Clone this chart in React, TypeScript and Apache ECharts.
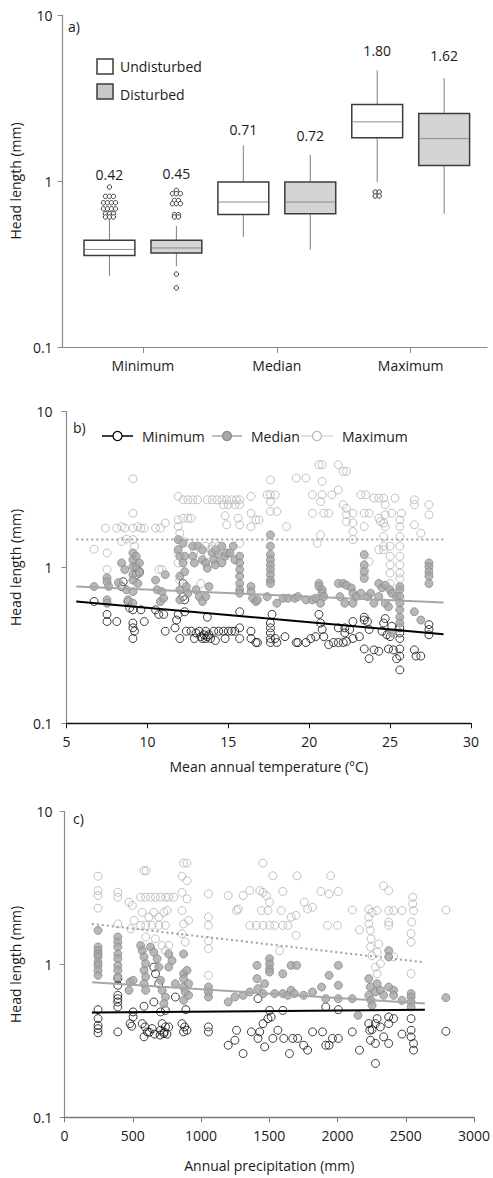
import React, { useEffect, useRef } from "react";
import * as echarts from "echarts";

const FONT = "'Open Sans', 'Noto Sans', sans-serif";
const TXT = "#1a1a1a";

// ---------- Panel a: box plots ----------
const boxCategories = ["Minimum", "Median", "Maximum"];
// [lower whisker, Q1, median, Q3, upper whisker]
const undisturbedBoxes = [
  [0.268, 0.356, 0.387, 0.439, 0.593],
  [0.46, 0.629, 0.747, 0.986, 1.64],
  [0.986, 1.82, 2.27, 2.89, 4.64],
];
const disturbedBoxes = [
  [0.306, 0.368, 0.395, 0.439, 0.536],
  [0.386, 0.635, 0.747, 0.986, 1.44],
  [0.635, 1.24, 1.8, 2.55, 4.17],
];
const undisturbedMeans = [0.42, 0.71, 1.8];
const disturbedMeans = [0.45, 0.72, 1.62];
const undisturbedOutliers = [
  [0.92, 0.808, 0.808, 0.808, 0.74, 0.74, 0.74, 0.74, 0.68, 0.68, 0.68, 0.68, 0.635, 0.635, 0.635, 0.607, 0.607, 0.607],
  [],
  [0.858, 0.858, 0.812, 0.812],
];
const disturbedOutliers = [
  [0.878, 0.839, 0.839, 0.839, 0.764, 0.764, 0.73, 0.73, 0.73, 0.627, 0.627, 0.607, 0.607, 0.275, 0.227],
  [],
  [],
];

// ---------- Panel b: head length vs mean annual temperature ----------
const tempMinimum = [
  [6.7, 0.605], [7.5, 0.5], [7.5, 0.45], [8.1, 0.45], [8.5, 0.81], [8.4, 0.755],
  [8.8, 0.605], [8.9, 0.55], [9.1, 0.535], [9.1, 0.44], [9.1, 0.41], [9.1, 0.35], [9.2, 0.39], [9.3, 0.9], [9.5, 0.94], [9.6, 0.535], [9.8, 0.45],
  [10.5, 0.535], [10.7, 0.5], [11.0, 0.5], [11.1, 0.39],
  [11.7, 0.41], [11.8, 0.46], [11.9, 0.5], [12.0, 0.35], [12.2, 0.79], [12.2, 0.65], [12.3, 0.62], [12.3, 0.52],
  [12.4, 0.39], [12.7, 0.39], [12.9, 0.35], [13.2, 0.39], [13.4, 0.35], [13.6, 0.39], [13.7, 0.48], [13.9, 0.35], [14.1, 0.39], [14.4, 0.39],
  [14.7, 0.39], [15.0, 0.39], [15.2, 0.39], [15.4, 0.39], [15.7, 0.41], [15.7, 0.35], [14.8, 0.35], [14.2, 0.34],
  [13.5, 0.37], [13.3, 0.36], [13.7, 0.36], [13.0, 0.38], [13.6, 0.35], [13.8, 0.37],
  [15.7, 0.52], [16.4, 0.39], [16.4, 0.35], [16.7, 0.33], [16.8, 0.33],
  [17.6, 0.44], [17.6, 0.41], [17.6, 0.38], [17.6, 0.35], [17.6, 0.33], [17.7, 0.5], [17.9, 0.35], [18.0, 0.33], [18.5, 0.36],
  [19.2, 0.33], [19.3, 0.33], [19.8, 0.33], [20.1, 0.35], [20.4, 0.36], [20.6, 0.5], [20.7, 0.44], [20.8, 0.4], [20.9, 0.36],
  [21.2, 0.32], [21.5, 0.33], [21.8, 0.33], [22.1, 0.33], [22.3, 0.335], [21.8, 0.41], [22.2, 0.41], [22.5, 0.4], [22.7, 0.45], [22.7, 0.35], [22.2, 0.38],
  [23.4, 0.48], [23.4, 0.46], [23.6, 0.45], [23.4, 0.3], [23.1, 0.36], [23.7, 0.4],
  [24.0, 0.296], [24.3, 0.29], [23.7, 0.26], [24.5, 0.39], [24.6, 0.44], [24.7, 0.47], [24.8, 0.37],
  [24.9, 0.3], [25.1, 0.42], [25.0, 0.36], [25.2, 0.296], [25.4, 0.26], [25.6, 0.41], [25.6, 0.38], [25.6, 0.35], [25.6, 0.3], [25.6, 0.27], [25.6, 0.22],
  [26.5, 0.296], [26.6, 0.27], [26.9, 0.27], [27.4, 0.43], [27.4, 0.4], [27.4, 0.37],
];
const tempMedian = [
  [6.7, 0.755], [7.5, 0.86], [7.5, 0.81], [7.5, 0.62], [7.5, 0.59], [7.6, 0.755],
  [8.4, 1.07], [8.2, 0.8], [8.6, 0.97], [8.7, 0.72], [8.8, 0.62],
  [9.1, 1.24], [9.1, 1.12], [9.1, 1.01], [9.1, 0.9], [9.1, 0.83], [9.1, 0.7], [9.1, 0.59], [9.3, 1.18], [9.3, 1.01], [9.4, 0.79], [9.5, 0.92], [9.5, 1.07],
  [10.5, 0.83], [10.6, 0.72], [10.9, 0.7], [10.8, 0.605], [11.1, 0.9], [11.0, 0.635],
  [11.9, 1.51], [11.9, 1.3], [12.0, 1.18], [12.0, 0.88], [12.0, 0.72], [12.0, 0.62],
  [12.2, 1.43], [12.3, 1.18], [12.2, 1.07], [12.3, 0.94], [12.4, 0.755], [12.5, 0.684],
  [12.8, 1.37], [12.8, 1.18], [12.9, 1.07], [13.1, 1.37], [13.4, 1.3], [13.4, 1.12], [13.6, 1.07], [13.0, 0.72], [13.2, 0.65], [13.4, 0.605], [13.6, 0.65], [13.8, 0.755],
  [14.0, 1.24], [14.1, 1.12], [14.2, 1.3], [14.4, 1.21], [14.6, 1.37], [14.8, 1.18], [14.9, 1.24], [15.1, 1.24], [15.3, 1.37], [15.4, 1.12], [13.7, 0.99], [14.2, 1.04], [14.6, 1.07],
  [15.7, 1.18], [15.7, 1.07], [15.7, 0.97], [15.7, 0.88], [15.7, 0.79], [15.7, 0.72], [15.7, 0.684],
  [16.4, 0.755], [16.4, 0.7], [16.5, 0.635], [16.7, 0.605], [16.8, 0.62],
  [17.6, 1.62], [17.6, 1.37], [17.6, 1.21], [17.6, 1.12], [17.6, 1.04], [17.6, 0.97], [17.6, 0.9], [17.6, 0.83], [17.6, 0.79],
  [17.4, 0.65], [18.0, 0.59], [18.4, 0.635], [18.7, 0.635], [19.1, 0.635], [19.3, 0.65],
  [19.8, 0.62], [20.2, 0.62], [20.4, 0.635], [20.6, 0.79], [20.6, 0.755], [20.8, 0.72], [20.8, 0.684], [20.9, 0.65], [20.7, 0.59],
  [21.8, 0.79], [22.1, 0.79], [22.3, 0.77], [22.6, 0.74], [21.9, 0.65], [22.2, 0.59], [22.7, 0.59], [22.7, 0.684], [22.9, 0.65],
  [23.4, 1.21], [23.4, 1.04], [23.4, 0.94], [23.4, 0.85], [23.2, 0.684], [23.6, 0.65], [23.8, 0.684], [24.0, 0.59], [24.3, 0.65], [24.3, 0.79], [24.5, 0.74], [24.7, 0.77],
  [24.7, 0.59], [24.9, 0.56], [25.0, 0.72], [25.1, 0.684], [25.4, 0.65], [25.6, 0.755], [25.6, 0.72], [25.6, 0.65], [25.6, 0.59], [25.6, 0.535], [25.6, 0.48], [25.6, 0.44], [25.1, 0.38],
  [26.5, 0.52], [26.9, 0.46], [27.4, 1.07], [27.4, 1.01], [27.4, 0.94], [27.4, 0.88], [27.4, 0.79],
];
const tempMaximum = [
  [6.7, 1.31], [7.4, 1.79], [7.5, 1.24], [7.5, 0.97], [8.1, 1.79], [8.4, 1.83], [8.6, 1.79], [9.1, 1.79], [9.6, 1.79], [9.8, 1.79],
  [9.1, 3.71], [9.1, 2.23], [9.1, 1.51], [9.2, 1.37], [8.7, 1.52], [8.4, 1.47], [9.4, 1.83],
  [10.5, 1.79], [10.8, 1.79], [11.1, 1.93], [10.7, 0.97], [10.9, 0.97],
  [11.9, 2.86], [12.2, 2.72], [12.5, 2.72], [12.8, 2.72], [13.1, 2.72],
  [11.9, 2.02], [12.2, 2.07], [12.5, 2.07], [12.7, 2.07],
  [11.9, 1.83], [12.0, 1.66], [12.2, 1.47], [11.9, 1.24], [11.9, 1.07], [12.0, 0.83],
  [13.7, 2.72], [14.0, 2.72], [14.3, 2.72], [14.6, 2.72], [14.9, 2.72], [15.2, 2.72], [15.5, 2.72], [15.7, 2.72],
  [14.7, 2.53], [15.0, 2.53], [15.4, 2.53], [15.7, 2.53],
  [14.8, 2.15], [14.9, 1.88], [15.6, 2.07], [15.7, 1.88], [15.7, 1.43],
  [13.2, 1.37], [13.6, 1.37], [14.0, 1.37], [14.4, 1.37], [13.3, 1.21], [13.7, 1.21], [13.3, 0.79],
  [12.6, 1.43], [12.9, 1.3], [13.9, 1.3], [14.2, 1.43], [14.5, 1.24],
  [16.4, 2.86], [16.4, 2.23], [16.4, 1.83], [16.7, 2.02], [16.9, 2.02],
  [17.4, 2.93], [17.6, 2.93], [17.9, 2.93], [17.6, 3.65], [17.6, 2.65], [17.6, 2.29], [18.0, 2.29], [18.6, 1.83],
  [19.2, 3.75], [19.8, 3.75],
  [20.6, 4.57], [20.8, 4.57], [20.8, 3.57], [20.2, 2.93], [20.8, 2.93], [21.4, 2.93], [20.7, 2.65], [20.2, 2.23], [20.9, 2.23], [21.2, 2.23], [20.7, 1.62], [20.5, 1.43],
  [21.8, 4.57], [22.1, 4.14], [22.3, 4.14], [21.8, 3.15], [22.1, 2.53], [22.3, 2.4], [22.3, 2.18], [22.3, 1.97], [22.7, 1.93], [22.7, 1.7], [22.7, 1.51], [22.7, 2.23],
  [23.2, 2.93], [23.5, 2.93], [23.4, 2.23], [23.7, 2.23], [23.4, 1.83], [23.7, 1.09], [23.4, 0.97], [23.4, 0.88],
  [24.0, 2.79], [24.3, 2.79], [24.6, 2.79], [24.3, 2.07], [24.4, 1.97], [24.7, 2.53], [24.7, 2.18], [24.6, 1.93], [24.7, 1.83], [24.6, 1.58], [24.6, 1.37], [24.6, 1.3], [24.3, 1.3],
  [25.0, 1.37], [25.0, 1.18], [25.0, 1.04], [25.0, 0.92], [25.0, 0.79],
  [25.3, 2.79], [25.1, 2.23], [25.7, 2.23], [25.6, 2.02], [25.6, 1.83], [25.6, 1.58], [25.6, 1.37], [25.6, 1.18], [25.6, 1.04], [25.6, 0.92], [25.6, 0.85], [25.6, 0.72],
  [26.5, 2.72], [26.5, 2.53], [26.5, 1.88], [26.9, 1.66], [27.4, 2.53], [27.4, 2.18],
];
const tempTrendMinimum = [[5.6, 0.605], [28.3, 0.373]];
const tempTrendMedian = [[5.6, 0.755], [28.3, 0.596]];
const tempTrendMaximum = [[5.6, 1.51], [28.3, 1.51]];

// ---------- Panel c: head length vs annual precipitation ----------
const precipMinimum = [
  [245, 0.506], [245, 0.442], [245, 0.4], [245, 0.38], [245, 0.357],
  [390, 0.807], [390, 0.73], [390, 0.628], [390, 0.597], [390, 0.568], [390, 0.527], [390, 0.362],
  [480, 0.41], [502, 0.453], [492, 0.394], [502, 0.489],
  [582, 0.532], [569, 0.41], [589, 0.39], [582, 0.336], [606, 0.362], [642, 0.38], [654, 0.96], [666, 0.869], [690, 0.748], [703, 0.489],
  [715, 0.41], [739, 0.39], [727, 0.353], [703, 0.371], [763, 0.39], [812, 0.612], [739, 0.5], [654, 0.568],
  [620, 0.36], [660, 0.35], [700, 0.345], [730, 0.36], [750, 0.35],
  [860, 0.41], [880, 0.39], [889, 0.506], [897, 0.371], [872, 0.362],
  [1054, 0.39], [1054, 0.362],
  [1199, 0.296], [1260, 0.371], [1248, 0.319], [1308, 0.261], [1369, 0.362], [1417, 0.597], [1430, 0.362], [1417, 0.328], [1466, 0.289],
  [1454, 0.41], [1490, 0.442], [1502, 0.5], [1514, 0.453], [1526, 0.328], [1563, 0.371], [1599, 0.5], [1606, 0.328], [1648, 0.261],
  [1672, 0.328], [1708, 0.328], [1752, 0.296], [1781, 0.275], [1817, 0.362], [1890, 0.362], [1914, 0.296], [1938, 0.296], [1963, 0.328],
  [2006, 0.328], [1914, 0.527], [2006, 0.506], [2108, 0.362], [2161, 0.275],
  [2229, 0.41], [2236, 0.371], [2241, 0.319], [2253, 0.375], [2278, 0.304], [2278, 0.41], [2290, 0.442], [2278, 0.225], [2314, 0.39],
  [2338, 0.336], [2375, 0.453], [2375, 0.41], [2411, 0.442], [2375, 0.304], [2472, 0.35],
  [2539, 0.442], [2539, 0.371], [2539, 0.336], [2557, 0.304], [2557, 0.275], [2794, 0.365],
];
const precipMedian = [
  [245, 1.67], [245, 1.3], [245, 1.23], [245, 1.17], [245, 1.12], [245, 1.035], [245, 0.985], [245, 0.914], [245, 0.848],
  [390, 1.51], [390, 1.4], [390, 1.3], [390, 1.17], [390, 1.09], [390, 0.985], [390, 0.914], [390, 0.83],
  [480, 0.767], [502, 0.787], [472, 0.677],
  [557, 1.33], [569, 1.23], [582, 1.12], [594, 1.01], [582, 0.914], [594, 0.83], [582, 0.748], [594, 0.677],
  [630, 1.3], [654, 1.2], [678, 1.09], [690, 0.96], [703, 0.787], [715, 0.677], [739, 0.612], [727, 0.554],
  [763, 1.17], [787, 1.06], [812, 0.748], [763, 0.96],
  [872, 1.17], [872, 0.87], [872, 0.807], [872, 0.711], [884, 0.66], [897, 0.914], [909, 0.748], [872, 0.582], [909, 0.628],
  [1054, 0.711], [1054, 0.66], [1054, 0.612],
  [1199, 0.568], [1248, 0.612], [1308, 0.628], [1357, 0.66], [1410, 0.985], [1410, 0.807], [1417, 0.694], [1466, 0.748],
  [1502, 1.09], [1502, 1.01], [1502, 0.937], [1502, 0.891], [1454, 0.644], [1539, 0.644], [1599, 0.869], [1599, 0.644],
  [1636, 0.628], [1660, 0.985], [1701, 0.985], [1660, 0.677], [1684, 0.644], [1752, 0.628], [1817, 0.66], [1883, 0.711],
  [1914, 0.597], [1938, 0.848], [2006, 0.985], [2006, 0.73], [2006, 0.597], [2108, 0.597], [2150, 0.465],
  [2229, 0.807], [2241, 0.711], [2229, 0.628], [2246, 0.582], [2253, 0.54], [2278, 0.66], [2290, 0.748], [2314, 0.677],
  [2338, 0.628], [2375, 1.23], [2375, 1.12], [2375, 0.711], [2411, 0.677], [2411, 0.628], [2472, 0.582],
  [2539, 0.644], [2539, 0.612], [2539, 0.568], [2539, 0.527], [2794, 0.606],
];
const precipMaximum = [
  [245, 3.77], [245, 3.04], [245, 2.82], [245, 2.33],
  [390, 2.96], [390, 2.75], [390, 1.84], [472, 2.55], [497, 2.43], [509, 1.94], [485, 1.71],
  [582, 4.1], [598, 4.1],
  [557, 2.75], [594, 2.75], [630, 2.75], [666, 2.75], [703, 2.75], [739, 2.75], [763, 2.75], [800, 2.75],
  [569, 2.19], [618, 2.04], [654, 2.19], [690, 2.04], [727, 2.19], [751, 2.25],
  [557, 1.8], [594, 1.8], [642, 1.8], [690, 1.8], [739, 1.8],
  [594, 1.51], [666, 1.47], [715, 1.33], [763, 1.33], [739, 1.23],
  [872, 4.6], [897, 4.6], [860, 3.77], [897, 3.53], [860, 2.96], [897, 2.68],
  [860, 2.25], [872, 1.84], [909, 1.94], [860, 1.59], [884, 1.4],
  [1054, 2.89], [1054, 2.04], [1054, 1.8], [1054, 1.43], [1054, 1.27], [1054, 0.848],
  [1199, 2.82], [1308, 2.82], [1357, 3.04], [1430, 3.04], [1454, 2.96], [1478, 2.82], [1502, 2.55],
  [1260, 2.25], [1272, 2.3], [1442, 2.25], [1490, 2.25], [1587, 2.25], [1660, 2.04], [1696, 2.09],
  [1357, 1.8], [1405, 1.8], [1454, 1.8], [1502, 1.8], [1539, 1.8], [1599, 1.8], [1636, 1.8],
  [1575, 1.23], [1696, 1.55],
  [1454, 4.6], [1526, 3.8], [1703, 3.8], [1950, 3.8],
  [1599, 3.0], [1878, 3.0], [1938, 2.89], [2006, 3.0],
  [1757, 2.55], [1781, 2.3], [1817, 2.36], [1926, 1.8], [1999, 1.8],
  [2108, 2.27], [2161, 1.68],
  [2229, 2.3], [2253, 2.19], [2290, 2.25], [2375, 2.25], [2411, 2.25], [2472, 2.25], [2557, 2.25], [2551, 2.49], [2551, 2.75], [2338, 3.27], [2375, 3.04],
  [2229, 2.04], [2229, 1.84], [2241, 1.67], [2246, 1.47], [2241, 1.3], [2253, 1.14], [2278, 0.96], [2290, 0.87], [2314, 1.01], [2290, 1.2], [2302, 1.36],
  [2375, 1.89], [2375, 1.8], [2411, 1.12],
  [2544, 1.89], [2539, 1.59], [2539, 1.4], [2539, 0.87], [2794, 2.27],
];
const precipTrendMinimum = [[200, 0.484], [2640, 0.506]];
const precipTrendMedian = [[200, 0.763], [2640, 0.554]];
const precipTrendMaximum = [[200, 1.84], [2625, 1.035]];

const yTicks = [0.1, 1, 10];

// ---------- helpers ----------
const GROUP_OFFSET = 0.25;
const BOX_HALF = 0.19;

function buildBoxRows(boxes: number[][], means: number[], outliers: number[][]) {
  return boxes.map((b, i) => {
    const top = Math.max(b[4], ...(outliers[i].length ? outliers[i] : [b[4]]));
    return [i + 1, b[0], b[1], b[2], b[3], b[4], means[i], top];
  });
}

function buildOutlierRows(lists: number[][], offset: number) {
  const rows: number[][] = [];
  lists.forEach((vals, i) => {
    const counts = new Map<number, number>();
    vals.forEach((v) => counts.set(v, (counts.get(v) || 0) + 1));
    const seen = new Map<number, number>();
    vals.forEach((v) => {
      const k = seen.get(v) || 0;
      seen.set(v, k + 1);
      rows.push([i + 1 + offset, v, k, counts.get(v) as number]);
    });
  });
  return rows;
}

// label gap above the top mark: base + step per category
const makeBoxRender = (offset: number, fill: string, gapBase: number, gapStep: number) => (_params: any, api: any) => {
  const cat = api.value(0);
  const c = cat + offset;
  const lo = api.coord([c, api.value(1)]);
  const q1 = api.coord([c, api.value(2)]);
  const med = api.coord([c, api.value(3)]);
  const q3 = api.coord([c, api.value(4)]);
  const hi = api.coord([c, api.value(5)]);
  const top = api.coord([c, api.value(7)]);
  const xl = api.coord([c - BOX_HALF, api.value(3)])[0];
  const xr = api.coord([c + BOX_HALF, api.value(3)])[0];
  const cx = lo[0];
  const gap = gapBase + gapStep * (cat - 1);
  return {
    type: "group",
    children: [
      { type: "line", shape: { x1: cx, y1: hi[1], x2: cx, y2: q3[1] }, style: { stroke: "#7f7f7f", lineWidth: 1 } },
      { type: "line", shape: { x1: cx, y1: q1[1], x2: cx, y2: lo[1] }, style: { stroke: "#7f7f7f", lineWidth: 1 } },
      {
        type: "rect",
        shape: { x: xl, y: q3[1], width: xr - xl, height: q1[1] - q3[1] },
        style: { fill, stroke: "#3c3c3c", lineWidth: 1.5 },
      },
      { type: "line", shape: { x1: xl + 1, y1: med[1], x2: xr - 1, y2: med[1] }, style: { stroke: "#8c8c8c", lineWidth: 1 } },
      {
        type: "text",
        x: cx,
        y: top[1] - gap,
        style: {
          text: Number(api.value(6)).toFixed(2),
          align: "center",
          verticalAlign: "bottom",
          fill: TXT,
          fontSize: 14,
          fontFamily: FONT,
        },
      },
    ],
  };
};

const outlierRender = (_params: any, api: any) => {
  const p = api.coord([api.value(0), api.value(1)]);
  const dx = (api.value(2) - (api.value(3) - 1) / 2) * 4;
  return {
    type: "circle",
    shape: { cx: p[0] + dx, cy: p[1], r: 2.2 },
    style: { fill: "#fff", stroke: "#333", lineWidth: 1 },
  };
};

const yAxisCommon = (gridIndex: number, labelMargin: number, nameGap: number) => ({
  type: "log",
  logBase: 10,
  gridIndex,
  min: 0.1,
  max: 10,
  name: "Head length (mm)",
  nameLocation: "middle",
  nameGap,
  nameTextStyle: { fontSize: 14, fontFamily: FONT, color: TXT },
  axisLine: { show: true, lineStyle: { color: "#8a8a8a", width: 1.2 } },
  axisTick: { show: true, length: 5, inside: false, lineStyle: { color: "#8a8a8a" } },
  axisLabel: {
    fontSize: 14,
    fontFamily: FONT,
    color: TXT,
    margin: labelMargin,
    formatter: (v: number) => {
      const t = yTicks.find((k) => Math.abs(k - v) / k < 1e-6);
      return t === undefined ? "" : String(t);
    },
  },
  splitLine: { show: false },
  minorTick: { show: false },
});

const scatterStyle = {
  min: { color: "rgba(255,255,255,0)", borderColor: "#111", borderWidth: 1 },
  med: { color: "#a6a6a6", borderColor: "#8a8a8a", borderWidth: 1 },
  max: { color: "rgba(255,255,255,0)", borderColor: "#b3b3b3", borderWidth: 1 },
};

function scatterSeries(name: string, data: number[][], axis: number, style: any, z: number) {
  return {
    type: "scatter",
    name,
    xAxisIndex: axis,
    yAxisIndex: axis,
    data,
    symbol: "circle",
    symbolSize: 8,
    itemStyle: style,
    z,
    silent: true,
  };
}

function trendSeries(data: number[][], axis: number, color: string, width: number, type: any) {
  return {
    type: "line",
    xAxisIndex: axis,
    yAxisIndex: axis,
    data,
    symbol: "none",
    lineStyle: { color, width, type },
    z: 10,
    silent: true,
  };
}

function legendItem(x1: number, x2: number, y: number, lineColor: string, lineW: number, fill: string, stroke: string, label: string) {
  const cx = (x1 + x2) / 2;
  return [
    { type: "line", shape: { x1, y1: y, x2, y2: y }, style: { stroke: lineColor, lineWidth: lineW } },
    { type: "circle", shape: { cx, cy: y, r: 4.5 }, style: { fill, stroke, lineWidth: 1.2 } },
    { type: "text", x: x2 + 9, y, style: { text: label, fill: TXT, fontSize: 14, fontFamily: FONT, verticalAlign: "middle", align: "left" } },
  ];
}

const plainNumber = (v: number) => String(v);

export default function App() {
  const ref = useRef<HTMLDivElement>(null);
  useEffect(() => {
    if (!ref.current) return;
    const chart = echarts.init(ref.current, undefined, { renderer: "svg" });
    const option: any = {
      animation: false,
      backgroundColor: "#ffffff",
      textStyle: { fontFamily: FONT },
      grid: [
        { left: 58, top: 15, width: 429, height: 332 },
        { left: 58, top: 411.7, width: 413, height: 311.6 },
        { left: 61.7, top: 811.5, width: 412.6, height: 305.8 },
      ],
      xAxis: [
        {
          type: "value",
          gridIndex: 0,
          min: 0.4,
          max: 3.57,
          axisLine: { show: true, lineStyle: { color: "#8a8a8a", width: 1.2 } },
          axisTick: { show: true, length: 6, customValues: [1, 2, 3], lineStyle: { color: "#8a8a8a" } },
          axisLabel: {
            customValues: [1, 2, 3],
            fontSize: 14,
            fontFamily: FONT,
            color: TXT,
            margin: 11,
            formatter: (v: number) => {
              const i = Math.round(v);
              return Math.abs(v - i) < 1e-6 && i >= 1 && i <= 3 ? boxCategories[i - 1] : "";
            },
          },
          splitLine: { show: false },
        },
        {
          type: "value",
          gridIndex: 1,
          min: 5,
          max: 30,
          interval: 5,
          name: "Mean annual temperature (°C)",
          nameLocation: "middle",
          nameGap: 36,
          nameTextStyle: { fontSize: 14, fontFamily: FONT, color: TXT },
          axisLine: { show: true, lineStyle: { color: "#111", width: 1.3 } },
          axisTick: { show: true, length: 5, lineStyle: { color: "#111" } },
          axisLabel: { fontSize: 14, fontFamily: FONT, color: TXT, margin: 11, formatter: plainNumber },
          splitLine: { show: false },
        },
        {
          type: "value",
          gridIndex: 2,
          min: 0,
          max: 3000,
          interval: 500,
          name: "Annual precipitation (mm)",
          nameLocation: "middle",
          nameGap: 41,
          nameTextStyle: { fontSize: 14, fontFamily: FONT, color: TXT },
          axisLine: { show: true, lineStyle: { color: "#7a7a7a", width: 1.3 } },
          axisTick: { show: true, length: 5, lineStyle: { color: "#7a7a7a" } },
          axisLabel: { fontSize: 14, fontFamily: FONT, color: TXT, margin: 11, formatter: plainNumber },
          splitLine: { show: false },
        },
      ],
      yAxis: [yAxisCommon(0, 10, 23), yAxisCommon(1, 14, 24), yAxisCommon(2, 12, 26)],
      series: [
        {
          type: "custom",
          name: "Undisturbed",
          xAxisIndex: 0,
          yAxisIndex: 0,
          data: buildBoxRows(undisturbedBoxes, undisturbedMeans, undisturbedOutliers),
          renderItem: makeBoxRender(-GROUP_OFFSET, "#ffffff", 6, 3.3),
          silent: true,
        },
        {
          type: "custom",
          name: "Disturbed",
          xAxisIndex: 0,
          yAxisIndex: 0,
          data: buildBoxRows(disturbedBoxes, disturbedMeans, disturbedOutliers),
          renderItem: makeBoxRender(GROUP_OFFSET, "#d4d4d4", 9.7, 2.8),
          silent: true,
        },
        {
          type: "custom",
          name: "Undisturbed outliers",
          xAxisIndex: 0,
          yAxisIndex: 0,
          data: buildOutlierRows(undisturbedOutliers, -GROUP_OFFSET),
          renderItem: outlierRender,
          silent: true,
        },
        {
          type: "custom",
          name: "Disturbed outliers",
          xAxisIndex: 0,
          yAxisIndex: 0,
          data: buildOutlierRows(disturbedOutliers, GROUP_OFFSET),
          renderItem: outlierRender,
          silent: true,
        },
        scatterSeries("Minimum", tempMinimum, 1, scatterStyle.min, 2),
        scatterSeries("Median", tempMedian, 1, scatterStyle.med, 3),
        scatterSeries("Maximum", tempMaximum, 1, scatterStyle.max, 4),
        trendSeries(tempTrendMinimum, 1, "#000000", 2, "solid"),
        trendSeries(tempTrendMedian, 1, "#a6a6a6", 2, "solid"),
        trendSeries(tempTrendMaximum, 1, "#a0a0a0", 2, [2, 3]),
        scatterSeries("Minimum", precipMinimum, 2, scatterStyle.min, 2),
        scatterSeries("Median", precipMedian, 2, scatterStyle.med, 3),
        scatterSeries("Maximum", precipMaximum, 2, scatterStyle.max, 4),
        trendSeries(precipTrendMinimum, 2, "#000000", 2, "solid"),
        trendSeries(precipTrendMedian, 2, "#a6a6a6", 2, "solid"),
        trendSeries(precipTrendMaximum, 2, "#a0a0a0", 2, [2, 3]),
      ],
      graphic: [
        { type: "text", x: 68, y: 26, style: { text: "a)", fill: TXT, fontSize: 14, fontFamily: FONT, verticalAlign: "middle" } },
        { type: "text", x: 73, y: 427, style: { text: "b)", fill: TXT, fontSize: 14, fontFamily: FONT, verticalAlign: "middle" } },
        { type: "text", x: 73, y: 818, style: { text: "c)", fill: TXT, fontSize: 14, fontFamily: FONT, verticalAlign: "middle" } },
        { type: "rect", shape: { x: 97, y: 59, width: 16, height: 15 }, style: { fill: "#ffffff", stroke: "#3c3c3c", lineWidth: 1.5 } },
        { type: "text", x: 120, y: 66, style: { text: "Undisturbed", fill: TXT, fontSize: 14, fontFamily: FONT, verticalAlign: "middle" } },
        { type: "rect", shape: { x: 97, y: 84, width: 16, height: 15 }, style: { fill: "#c8c8c8", stroke: "#3c3c3c", lineWidth: 1.5 } },
        { type: "text", x: 120, y: 94, style: { text: "Disturbed", fill: TXT, fontSize: 14, fontFamily: FONT, verticalAlign: "middle" } },
        ...legendItem(102, 133, 436, "#000000", 1.5, "#ffffff", "#000000", "Minimum"),
        ...legendItem(212, 242, 436, "#a6a6a6", 1.5, "#a6a6a6", "#8a8a8a", "Median"),
        ...legendItem(301, 333, 436, "#c8c8c8", 1, "#ffffff", "#b8b8b8", "Maximum"),
      ],
    };
    chart.setOption(option);
    return () => chart.dispose();
  }, []);
  return (
    <div
      ref={ref}
      style={{ position: "absolute", left: 0, top: 0, width: 493, height: 1178, background: "#fff" }}
    />
  );
}
